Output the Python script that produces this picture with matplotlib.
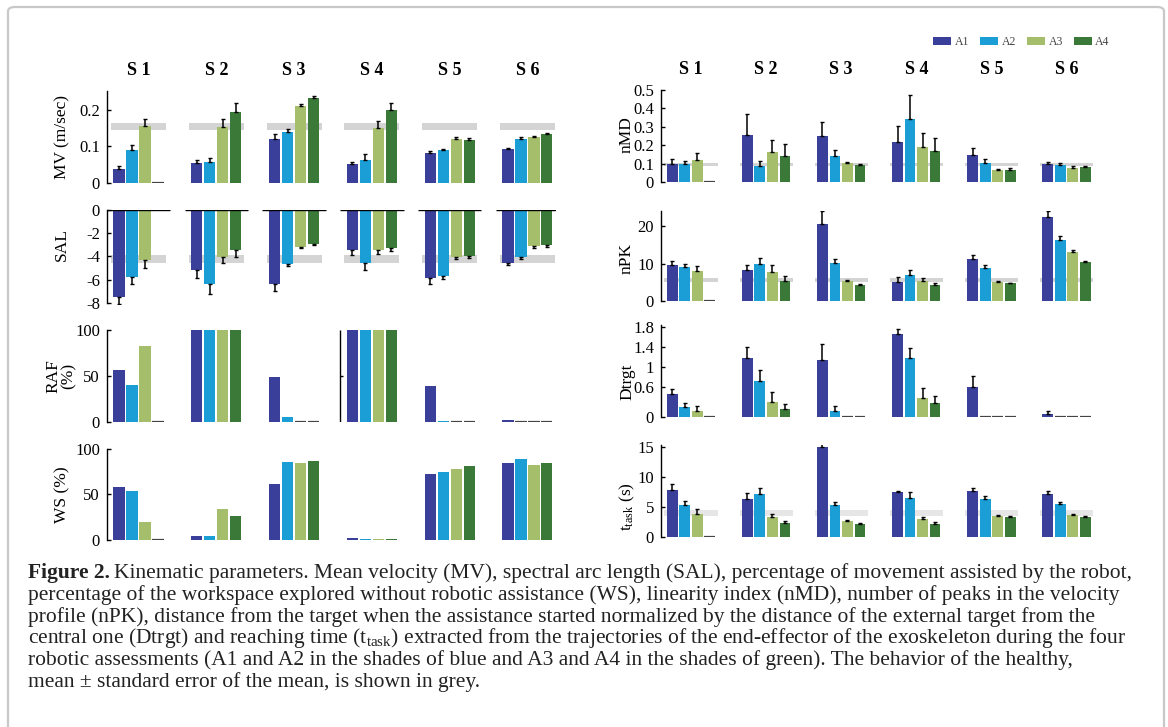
import numpy as np
import matplotlib
matplotlib.use("Agg")
import matplotlib.pyplot as plt
from matplotlib.patches import Patch, FancyBboxPatch

plt.rcParams['font.family'] = ['Liberation Serif', 'DejaVu Serif']
plt.rcParams['mathtext.fontset'] = 'custom'
plt.rcParams['mathtext.rm'] = 'Liberation Serif'

# ---------------- data ----------------
subjects = ['S 1', 'S 2', 'S 3', 'S 4', 'S 5', 'S 6']
assessments = ['A1', 'A2', 'A3', 'A4']
colors = ['#3a3f9a', '#1b9dd6', '#a4be6c', '#3b7939']

# rows = subjects S1..S6, cols = A1..A4
mv_val = np.array([[0.039, 0.091, 0.157, 0.0],
                   [0.055, 0.057, 0.153, 0.194],
                   [0.120, 0.141, 0.212, 0.234],
                   [0.053, 0.064, 0.152, 0.200],
                   [0.083, 0.090, 0.121, 0.119],
                   [0.094, 0.121, 0.127, 0.134]])
mv_err = np.array([[0.007, 0.013, 0.017, 0.0],
                   [0.009, 0.012, 0.021, 0.024],
                   [0.013, 0.007, 0.004, 0.005],
                   [0.004, 0.016, 0.018, 0.018],
                   [0.006, 0.004, 0.005, 0.005],
                   [0.003, 0.006, 0.003, 0.004]])

sal_val = np.array([[-7.47, -5.75, -4.35, np.nan],
                    [-5.17, -6.36, -4.06, -3.45],
                    [-6.34, -4.64, -3.15, -2.95],
                    [-3.47, -4.53, -3.47, -3.24],
                    [-5.90, -5.66, -4.09, -4.00],
                    [-4.53, -4.06, -3.12, -3.04]])
sal_err = np.array([[0.59, 0.59, 0.61, 0.0],
                    [0.73, 0.91, 0.49, 0.61],
                    [0.66, 0.21, 0.12, 0.09],
                    [0.44, 0.61, 0.33, 0.32],
                    [0.49, 0.30, 0.11, 0.15],
                    [0.17, 0.14, 0.15, 0.11]])

raf_val = np.array([[56, 40, 82, 0],
                    [100, 100, 100, 100],
                    [49, 5, 0, 0],
                    [100, 100, 100, 100],
                    [39, 1.5, 0, 0],
                    [2.5, 0, 0, 0]], dtype=float)

ws_val = np.array([[58, 53.5, 19.5, 0],
                   [4, 4.7, 34, 26],
                   [61, 85.5, 84.4, 86.5],
                   [1.8, 0.6, 1.0, 1.5],
                   [72, 74.5, 77.8, 81],
                   [84.4, 89, 81.8, 84.7]], dtype=float)

nmd_val = np.array([[0.096, 0.096, 0.118, 0.0],
                    [0.256, 0.089, 0.165, 0.144],
                    [0.249, 0.144, 0.102, 0.095],
                    [0.216, 0.340, 0.189, 0.167],
                    [0.145, 0.104, 0.064, 0.067],
                    [0.096, 0.095, 0.078, 0.080]])
nmd_err = np.array([[0.028, 0.017, 0.037, 0.0],
                    [0.111, 0.024, 0.064, 0.061],
                    [0.075, 0.029, 0.009, 0.005],
                    [0.088, 0.133, 0.076, 0.071],
                    [0.039, 0.020, 0.007, 0.009],
                    [0.013, 0.007, 0.007, 0.007]])

npk_val = np.array([[9.6, 9.1, 8.1, 0.0],
                    [8.2, 9.8, 7.7, 5.4],
                    [20.6, 10.1, 5.4, 4.3],
                    [5.1, 7.0, 5.4, 4.2],
                    [11.1, 8.9, 5.0, 4.7],
                    [22.4, 16.4, 13.0, 10.5]])
npk_err = np.array([[1.0, 0.9, 1.2, 0.0],
                    [1.4, 1.7, 1.8, 1.4],
                    [3.3, 1.0, 0.3, 0.3],
                    [1.2, 1.3, 0.7, 0.6],
                    [1.2, 0.7, 0.3, 0.2],
                    [1.5, 0.9, 0.6, 0.3]])

dtr_val = np.array([[0.457, 0.20, 0.128, 0.0],
                    [1.19, 0.73, 0.30, 0.155],
                    [1.14, 0.128, 0.0, 0.0],
                    [1.66, 1.19, 0.376, 0.275],
                    [0.61, 0.0, 0.0, 0.0],
                    [0.067, 0.0, 0.0, 0.0]])
dtr_err = np.array([[0.10, 0.09, 0.10, 0.0],
                    [0.21, 0.22, 0.20, 0.115],
                    [0.32, 0.087, 0.0, 0.0],
                    [0.11, 0.20, 0.20, 0.145],
                    [0.216, 0.0, 0.0, 0.0],
                    [0.061, 0.0, 0.0, 0.0]])

tt_val = np.array([[7.88, 5.30, 3.90, 0.0],
                   [6.31, 7.15, 3.30, 2.30],
                   [14.97, 5.25, 2.68, 2.23],
                   [7.49, 6.54, 3.00, 2.23],
                   [7.60, 6.40, 3.46, 3.30],
                   [7.20, 5.47, 3.74, 3.30]])
tt_err = np.array([[0.89, 0.68, 0.74, 0.0],
                   [1.01, 1.01, 0.60, 0.40],
                   [0.83, 0.55, 0.17, 0.12],
                   [0.11, 1.00, 0.40, 0.23],
                   [0.50, 0.50, 0.22, 0.16],
                   [0.50, 0.33, 0.16, 0.16]])

# healthy (mean, sem)
healthy_mv = (0.154, 0.009)
healthy_sal = (-4.23, 0.32)
healthy_nmd = (0.096, 0.009)
healthy_npk = (5.6, 0.5)
healthy_tt = (4.02, 0.5)

# ---------------- layout ----------------
W, H = 1168, 727
fig = plt.figure(figsize=(W / 100, H / 100), dpi=100)


def add_ax(x0, y0, x1, y1):
    return fig.add_axes([x0 / W, 1 - y1 / H, (x1 - x0) / W, (y1 - y0) / H])


centers = np.arange(6) * 6.0
offsets = np.array([-1.5, -0.5, 0.5, 1.5])
BW = 0.86


def panel(ax, vals, errs, ylim, ticks, labels, healthy=None, band_color='#d4d4d4',
          xlim=(-2.43, 32.2), spine_top=None):
    ax.set_xlim(*xlim)
    ax.set_ylim(*ylim)
    if healthy is not None:
        m, s = healthy
        ax.bar(centers, [2 * s] * 6, bottom=[m - s] * 6, width=4.25,
               color=band_color, zorder=1, linewidth=0)
    for a in range(4):
        x = centers + offsets[a]
        v = vals[:, a]
        ax.bar(x, np.nan_to_num(v), width=BW, color=colors[a], zorder=2, linewidth=0)
        zero = (v == 0)
        if zero.any():
            ax.hlines(np.zeros(zero.sum()), x[zero] - BW / 2, x[zero] + BW / 2,
                      color='#444444', lw=1.6, zorder=3)
        if errs is not None:
            e = errs[:, a]
            lo = np.where(v < 0, e, 0)
            hi = np.where(v > 0, e, 0)
            ok = (e > 0) & ~np.isnan(v)
            ax.errorbar(x[ok], v[ok], yerr=[lo[ok], hi[ok]], fmt='none',
                        ecolor='black', elinewidth=1.1, capsize=1.2,
                        capthick=1.0, zorder=4)
    for sp in ['top', 'right', 'bottom']:
        ax.spines[sp].set_visible(False)
    ax.spines['left'].set_linewidth(1.0)
    lo_b = min(ticks)
    hi_b = spine_top if spine_top is not None else max(ticks)
    ax.spines['left'].set_bounds(lo_b, hi_b)
    ax.set_yticks(ticks)
    ax.set_yticklabels(labels)
    ax.tick_params(axis='y', direction='in', length=3, width=1.0,
                   labelsize=12, pad=5)
    ax.set_xticks([])
    ax.patch.set_visible(False)


LX0, LX1 = 107, 556
RX0, RX1 = 661, 1094
rxlim = (-2.4, 32.2)

ax_mv = add_ax(LX0, 91, LX1, 183)
panel(ax_mv, mv_val, mv_err, (0, 0.252), [0, 0.1, 0.2], ['0', '0.1', '0.2'],
      healthy=healthy_mv, spine_top=0.252)

ax_sal = add_ax(LX0, 210, LX1, 304)
panel(ax_sal, sal_val, sal_err, (-8.1, 0), [-8, -6, -4, -2, 0],
      ['-8', '-6', '-4', '-2', '0'], healthy=healthy_sal)
ax_sal.hlines(np.zeros(6), centers - 2.45, centers + 2.45, color='black', lw=1.0, zorder=3)

ax_raf = add_ax(LX0, 329, LX1, 422)
panel(ax_raf, raf_val, None, (0, 101), [0, 50, 100], ['0', '50', '100'])
ax_raf.vlines(centers[3] - 2.43, 0, 100, color='black', lw=1.0)
ax_raf.hlines(50, centers[3] - 2.43, centers[3] - 2.2, color='black', lw=1.0)

ax_ws = add_ax(LX0, 448, LX1, 540)
panel(ax_ws, ws_val, None, (0, 101), [0, 50, 100], ['0', '50', '100'])

ax_nmd = add_ax(RX0, 90, RX1, 182)
panel(ax_nmd, nmd_val, nmd_err, (0, 0.5), [0, 0.1, 0.2, 0.3, 0.4, 0.5],
      ['0', '0.1', '0.2', '0.3', '0.4', '0.5'], healthy=healthy_nmd, xlim=rxlim)

ax_npk = add_ax(RX0, 211, RX1, 301)
panel(ax_npk, npk_val, npk_err, (0, 24), [0, 10, 20], ['0', '10', '20'],
      healthy=healthy_npk, xlim=rxlim, spine_top=24)

ax_dtr = add_ax(RX0, 325, RX1, 417)
panel(ax_dtr, dtr_val, dtr_err, (0, 1.85), [0, 0.6, 1.0, 1.4, 1.8],
      ['0', '0.6', '1', '1.4', '1.8'], xlim=rxlim, spine_top=1.85)

ax_tt = add_ax(RX0, 445, RX1, 537)
panel(ax_tt, tt_val, tt_err, (0, 15.3), [0, 5, 10, 15], ['0', '5', '10', '15'],
      healthy=healthy_tt, band_color='#e6e6e6', xlim=rxlim, spine_top=15.3)

# subject titles
for ax in (ax_mv, ax_nmd):
    for g, s in enumerate(subjects):
        ax.text(centers[g], 1.22, s, transform=ax.get_xaxis_transform(),
                ha='center', va='center', fontsize=13, fontweight='bold')

# y labels
ylab = dict(rotation=90, ha='center', va='center', fontsize=12.5)
fig.text(62 / W, 1 - 137 / H, 'MV (m/sec)', **ylab)
fig.text(62 / W, 1 - 245 / H, 'SAL', **ylab)
fig.text(61 / W, 1 - 376 / H, 'RAF\n(%)', multialignment='center', linespacing=1.0, **ylab)
fig.text(62 / W, 1 - 495 / H, 'WS (%)', **ylab)
fig.text(627 / W, 1 - 135 / H, 'nMD', **ylab)
fig.text(627 / W, 1 - 258 / H, 'nPK', **ylab)
fig.text(627 / W, 1 - 382 / H, 'Dtrgt', **ylab)
fig.text(627 / W, 1 - 507 / H, r'$\mathregular{t_{task}}$ (s)', **ylab)

# legend
handles = [Patch(facecolor=c, edgecolor='none', label=l) for c, l in zip(colors, assessments)]
fig.legend(handles=handles, loc='center right', bbox_to_anchor=(1118 / W, 1 - 42 / H),
           ncol=4, frameon=False, fontsize=8.5, handlelength=1.55, handleheight=0.75,
           columnspacing=0.9, handletextpad=0.3, labelcolor='#444444',
           borderpad=0.2)

# caption
cap_fs = 15.45
x0 = 28 / W
base = [578, 600, 622, 643.5, 665, 687]
t_bold = fig.text(x0, 1 - base[0] / H, 'Figure 2.', fontsize=cap_fs, fontweight='bold',
                  va='baseline', color='#222222')
fig.canvas.draw()
bb = t_bold.get_window_extent()
fig.text((bb.x1 + 4) / W, 1 - base[0] / H,
         'Kinematic parameters. Mean velocity (MV), spectral arc length (SAL), percentage of movement assisted by the robot,',
         fontsize=cap_fs, va='baseline', color='#222222')
lines = [
    'percentage of the workspace explored without robotic assistance (WS), linearity index (nMD), number of peaks in the velocity',
    'profile (nPK), distance from the target when the assistance started normalized by the distance of the external target from the',
    r'central one (Dtrgt) and reaching time (t$_{\mathregular{task}}$) extracted from the trajectories of the end-effector of the exoskeleton during the four',
    'robotic assessments (A1 and A2 in the shades of blue and A3 and A4 in the shades of green). The behavior of the healthy,',
    'mean \u00b1 standard error of the mean, is shown in grey.',
]
for i, ln in enumerate(lines):
    fig.text(x0, 1 - base[i + 1] / H, ln, fontsize=cap_fs, va='baseline', color='#222222')

# border
border = FancyBboxPatch((8 / W, -0.05), (1164 - 8) / W, 1.05 - 7 / H,
                        boxstyle='round,pad=0,rounding_size=0.006',
                        transform=fig.transFigure, facecolor='none',
                        edgecolor='#c8c8c8', linewidth=1.6, clip_on=False)
fig.patches.append(border)

fig.savefig('out.png', dpi=100)
